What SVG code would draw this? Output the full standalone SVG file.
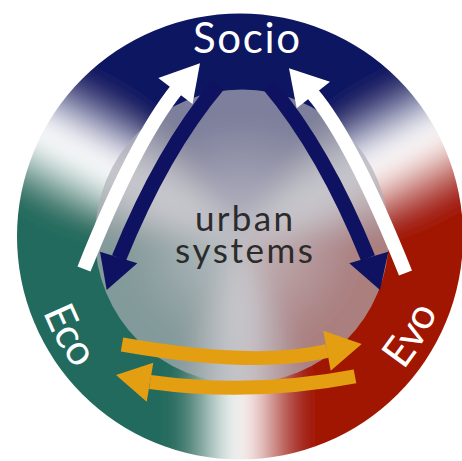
<svg xmlns="http://www.w3.org/2000/svg" width="462" height="461" viewBox="0 0 462 461">
<style>
.shaft{fill:none;stroke-linecap:butt}
.w{stroke:#fff;stroke-width:14}
.n{stroke:#0e1260;stroke-width:15}
.o{stroke:#e49e12;stroke-width:14}
.wf{fill:#fff}
.nf{fill:#0e1260}
.of{fill:#e49e12}
.lbl{font-family:Lato,"Open Sans","Liberation Sans",sans-serif;font-size:42px;fill:#fff}
.core{font-family:Lato,"Open Sans","Liberation Sans",sans-serif;font-size:35px;fill:#2b2b2b;text-anchor:middle}
</style>
<defs>
<clipPath id="outer"><circle cx="240" cy="236.5" r="223"/></clipPath>
<filter id="soft" x="-20%" y="-20%" width="140%" height="140%"><feGaussianBlur stdDeviation="14"/></filter>
<linearGradient id="gTN" gradientUnits="userSpaceOnUse" x1="51.8" y1="210.1" x2="112.9" y2="95.3">
<stop offset="0" stop-color="#246a5d"/><stop offset="0.42" stop-color="#fff"/><stop offset="0.56" stop-color="#fff"/><stop offset="1" stop-color="#0e1260"/>
</linearGradient>
<linearGradient id="gNR" gradientUnits="userSpaceOnUse" x1="367.1" y1="95.3" x2="428.2" y2="210.1">
<stop offset="0" stop-color="#0e1260"/><stop offset="0.44" stop-color="#fff"/><stop offset="0.56" stop-color="#fff"/><stop offset="1" stop-color="#a11206"/>
</linearGradient>
<linearGradient id="gRT" gradientUnits="userSpaceOnUse" x1="298" y1="425" x2="182" y2="425">
<stop offset="0" stop-color="#a11206"/><stop offset="0.45" stop-color="#fff"/><stop offset="0.55" stop-color="#fff"/><stop offset="1" stop-color="#246a5d"/>
</linearGradient>
<radialGradient id="glow" cx="242" cy="236.5" r="115" gradientUnits="userSpaceOnUse">
<stop offset="0" stop-color="#fff" stop-opacity="0.75"/><stop offset="0.5" stop-color="#fff" stop-opacity="0.45"/><stop offset="1" stop-color="#fff" stop-opacity="0"/>
</radialGradient>
<path id="eco-arc" d="M57.3,131 A211,211 0 0 0 240,447.5"/>
<path id="evo-arc" d="M240,447.5 A211,211 0 0 0 422.7,131"/>
</defs>
<g id="ring">
<g clip-path="url(#outer)">
<g filter="url(#soft)">
<path fill="url(#gTN)" d="M240,236.5 L-177.7,192.6 A420,420 0 0 1 -30,-85.2 Z"/>
<path fill="url(#gNR)" d="M240,236.5 L510,-85.2 A420,420 0 0 1 657.7,192.6 Z"/>
<path fill="url(#gRT)" d="M240,236.5 L397.3,625.9 A420,420 0 0 1 82.7,625.9 Z"/>
<path fill="#0e1260" d="M240,236.5 L-41,-75.6 A420,420 0 0 1 521,-75.6 Z"/>
<path fill="#a11206" d="M240,236.5 L655.9,178 A420,420 0 0 1 383.6,631.2 Z"/>
<path fill="#246a5d" d="M240,236.5 L96.4,631.2 A420,420 0 0 1 -175.9,178 Z"/>
<circle cx="242" cy="236.5" r="115" fill="url(#glow)"/>
</g>
</g>
</g>
<g id="core">
<circle cx="242" cy="236.5" r="147" fill="#afb0b7" fill-opacity="0.69"/>
<text class="core" x="244" y="231" textLength="98">urban</text>
<text class="core" x="244" y="263" textLength="138">systems</text>
</g>
<g id="connectors">
<path class="shaft n" d="M218,85 Q163,150 119,258"/>
<polygon class="nf" points="106.7,290 100,251.7 137.3,263.3"/>
<path class="shaft n" d="M269,85 Q324,150 368,258"/>
<polygon class="nf" points="380,290 349.3,263.3 388.3,251.7"/>
<path class="shaft w" d="M84,269 Q135,141 177,89"/>
<polygon class="wf" points="200,63.3 158.3,78 192.5,104"/>
<path class="shaft w" d="M405.5,273 Q352,139.6 312,93"/>
<polygon class="wf" points="289,68.3 330,81.7 296.7,108.3"/>
<path class="shaft o" d="M122,344.5 Q256,368 327,351"/>
<polygon class="of" points="361.7,344 323.3,330.7 330.7,370.7"/>
<path class="shaft o" d="M355,376.3 Q252,396 150,382"/>
<polygon class="of" points="116,375 153.3,362.7 146.7,401.7"/>
</g>
<g id="socio"><text class="lbl" x="246.5" y="53" text-anchor="middle" textLength="107">Socio</text></g>
<g id="eco"><text class="lbl"><textPath href="#eco-arc" startOffset="50%" text-anchor="middle">Eco</textPath></text></g>
<g id="evo"><text class="lbl"><textPath href="#evo-arc" startOffset="50%" text-anchor="middle">Evo</textPath></text></g>
</svg>
